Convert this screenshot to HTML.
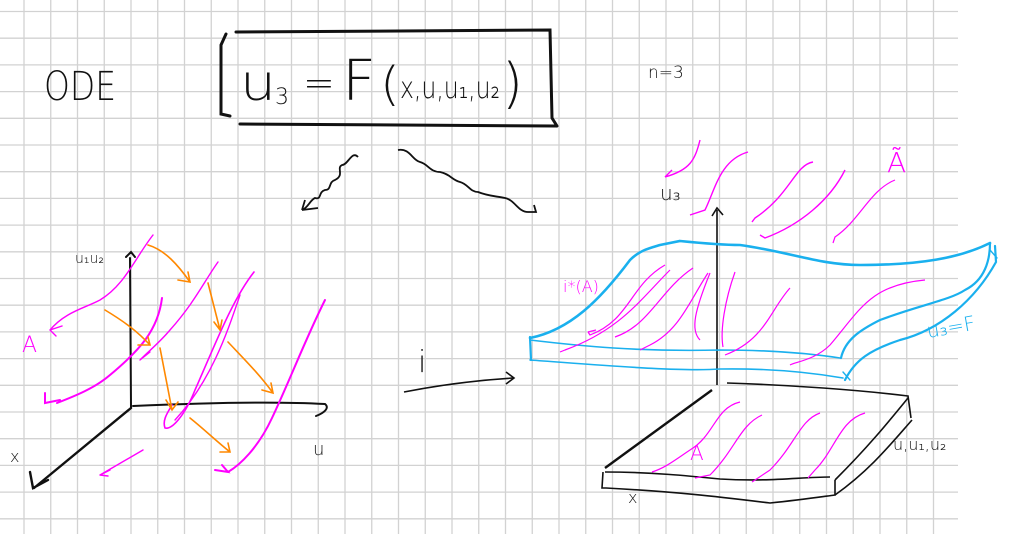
<!DOCTYPE html>
<html><head><meta charset="utf-8"><style>
html,body{margin:0;padding:0;background:#fff;width:1017px;height:534px;overflow:hidden}
svg{display:block}
text{font-family:"DejaVu Sans","Liberation Sans",sans-serif;font-weight:200}
</style></head><body>
<svg id="s" width="1017" height="534" viewBox="0 0 1017 534">
<g id="grid" stroke="#d2d2d2" stroke-width="1.3"></g>

<text x="44" y="100" font-size="40" fill="#111" textLength="72" lengthAdjust="spacingAndGlyphs">ODE</text>
<g fill="none" stroke="#111" stroke-width="3" stroke-linecap="round">
<path d="M236,32 L550,30 L552,118 L557,126 M240,124 L556,126 M226,34 L221,45 L221,114 L230,116"/>
</g>
<g fill="#111">
<text x="240" y="100" font-size="50" textLength="36" lengthAdjust="spacingAndGlyphs">u</text>
<text x="275" y="104" font-size="22">3</text>
<text x="303" y="96" font-size="38">=</text>
<text x="342" y="100" font-size="56" textLength="34" lengthAdjust="spacingAndGlyphs">F</text>
<text x="380" y="100" font-size="46" textLength="20" lengthAdjust="spacingAndGlyphs">(</text>
<text x="400" y="98" font-size="30" textLength="100" lengthAdjust="spacingAndGlyphs">x,u,u₁,u₂</text>
<text x="502" y="102" font-size="54">)</text>
</g>
<text x="648" y="78" font-size="17" fill="#111">n=3</text>
<g fill="none" stroke="#111" stroke-width="1.8">
<path d="M358,157 C352,150 348,165 342,165 C336,168 345,175 335,180 C328,182 332,190 325,190 C318,192 322,200 315,198 C310,200 308,208 302,210 L318,208 M302,210 L305,200"/>
<path d="M398,150 C410,148 412,160 420,162 C428,164 430,172 440,172 C450,174 452,180 460,182 C468,184 470,192 478,192 C488,196 495,196 505,198 C515,200 518,212 528,212 L536,212 L534,205"/>
</g>

<g fill="none" stroke="#111" stroke-width="2" stroke-linecap="round">
<path d="M131,407 L130,258 M126,257 L131,252 L135,257"/>
<path d="M133,406 C200,403 270,401 325,404 C330,408 324,413 316,416"/>
<path d="M131,408 L34,488 M30,472 L33,488 L48,480" stroke-width="2.4"/>
</g>
<text x="75" y="263" font-size="14" fill="#111">u₁u₂</text>
<text x="10" y="462" font-size="16" fill="#111">x</text>
<text x="313" y="455" font-size="18" fill="#111">u</text>
<text x="22" y="352" font-size="22" fill="#f0f">A</text>
<g fill="none" stroke="#f0f" stroke-width="1.4" stroke-linecap="round">
<path d="M153,235 C135,258 125,285 100,300 C85,308 65,312 50,330 M50,330 L62,326 M50,330 L56,336"/>
<path d="M162,298 C158,330 140,350 110,375 C95,388 75,396 57,403 M45,393 L45,403 L60,400" stroke-width="2"/>
<path d="M218,262 C205,280 195,302 170,330 C160,342 150,350 140,360 M140,360 L150,352"/>
<path d="M254,272 C232,300 215,345 195,390 C185,415 172,430 165,428 C162,420 168,412 172,405" stroke-width="1.6"/>
<path d="M240,295 C228,330 212,380 175,420"/>
<path d="M325,300 C305,340 290,380 272,418 C258,448 240,465 228,472 M215,470 L228,472 L222,465" stroke-width="2"/>
<path d="M143,450 L100,475 M100,475 L110,470 M100,475 L108,476"/>
</g>
<g fill="none" stroke="#f80" stroke-width="1.6" stroke-linecap="round">
<path d="M148,245 C165,250 178,265 190,282 M178,280 L190,282 L188,272"/>
<path d="M208,283 L220,330 M214,322 L220,330 L222,320"/>
<path d="M105,310 C125,322 138,332 150,345 M138,345 L150,345 L148,337"/>
<path d="M160,348 L172,410 M166,400 L172,410 L178,402"/>
<path d="M228,342 C245,360 260,375 273,393 M262,390 L273,393 L271,383"/>
<path d="M190,418 C205,430 215,440 230,452 M220,452 L230,452 L228,443"/>
</g>

<text x="418" y="372" font-size="30" fill="#111">i</text>
<path d="M404,392 C440,385 480,380 514,378 M506,372 L514,378 L506,384" fill="none" stroke="#111" stroke-width="1.6"/>

<g fill="none" stroke="#111" stroke-width="1.6">
<path d="M717,385 L717,210 M712,216 L717,208 L723,215"/>
</g>
<text x="660" y="200" font-size="20" fill="#111">u₃</text>
<g fill="none" stroke="#111" stroke-width="1.6">
<path d="M712,390 L605,468" stroke-width="2.4"/>
<path d="M727,383 C790,385 860,390 908,396 L911,418"/>
<path d="M605,472 C650,472 690,476 720,479 C770,482 800,477 830,477"/>
<path d="M603,472 L602,488 L606,488 C680,492 720,497 770,503 C800,500 820,497 835,495 L835,480"/>
<path d="M908,398 C890,420 870,445 835,480 M912,420 C890,445 870,470 835,495"/>
</g>
<text x="628" y="503" font-size="16" fill="#111">x</text>
<text x="893" y="450" font-size="16" fill="#111">u,u₁,u₂</text>
<text x="690" y="460" font-size="20" fill="#f0f">A</text>
<g fill="none" stroke="#f0f" stroke-width="1.2">
<path d="M740,402 C715,408 715,435 690,450 C675,460 665,468 652,472"/>
<path d="M762,415 C740,425 735,450 710,475 L695,478"/>
<path d="M820,413 C800,420 795,445 770,470 L752,482"/>
<path d="M865,413 C840,420 835,450 815,470 L808,478"/>
</g>
<g fill="none" stroke="#1ab0ee" stroke-linecap="round">
<path d="M530,338 C570,330 600,300 630,260 C640,250 650,248 660,245 L680,241 C700,243 720,245 740,245 C790,252 820,265 860,265 C920,265 960,258 990,243" stroke-width="2.6"/>
<path d="M530,340 C580,346 640,352 720,350 C780,350 820,355 840,358" stroke-width="1.6"/>
<path d="M530,360 C600,365 680,372 720,369 C780,368 820,374 843,378" stroke-width="1.6"/>
<path d="M530,337 L531,360 M841,358 C845,340 860,330 880,320 C920,305 950,300 965,290 C985,280 990,260 990,243 M845,380 C855,360 870,350 900,340 C940,330 975,300 996,262 L995,246" stroke-width="2.2"/>
<path d="M843,372 L850,380 M990,250 L997,258" stroke-width="1.4"/>
</g>
<text x="928" y="338" font-size="20" fill="#1ab0ee" transform="rotate(-10 928 338)">u₃=F</text>
<text x="563" y="292" font-size="16" fill="#f0f">i*(A)</text>
<g fill="none" stroke="#f0f" stroke-width="1.2">
<path d="M665,265 C630,285 630,320 590,335 L588,332 M588,332 L596,330"/>
<path d="M670,270 C640,300 620,330 565,350 L560,352"/>
<path d="M693,268 C660,290 650,325 615,337"/>
<path d="M708,273 C690,300 680,330 650,345 L640,350"/>
<path d="M710,273 C695,310 690,330 700,340"/>
<path d="M735,272 C725,300 720,330 723,347"/>
<path d="M790,288 C770,310 765,340 725,355"/>
<path d="M925,280 C870,285 860,310 830,345 C815,360 795,362 790,365"/>
</g>
<g fill="none" stroke="#f0f" stroke-width="1.4">
<path d="M700,140 C695,160 690,170 665,177 M665,177 L672,170"/>
<path d="M748,152 C720,160 715,190 705,210 L690,215"/>
<path d="M813,162 C795,165 790,195 755,218 L752,222"/>
<path d="M845,170 C830,200 800,225 765,238 L760,235"/>
<path d="M895,180 C870,190 860,220 835,237 L833,243" stroke-width="1.2"/>
</g>
<text x="887" y="172" font-size="28" fill="#f0f">Ã</text>
</svg>
<script>
const g=document.getElementById('grid');
const NS='http://www.w3.org/2000/svg';
for(let x=24;x<=960;x+=26.75){const l=document.createElementNS(NS,'line');l.setAttribute('x1',x);l.setAttribute('x2',x);l.setAttribute('y1',0);l.setAttribute('y2',534);


g.appendChild(l);}
for(let y=11.5;y<=534;y+=26.7){const l=document.createElementNS(NS,'line');l.setAttribute('x1',0);l.setAttribute('x2',958);l.setAttribute('y1',y);l.setAttribute('y2',y);


g.appendChild(l);}
</script>
</body></html>
